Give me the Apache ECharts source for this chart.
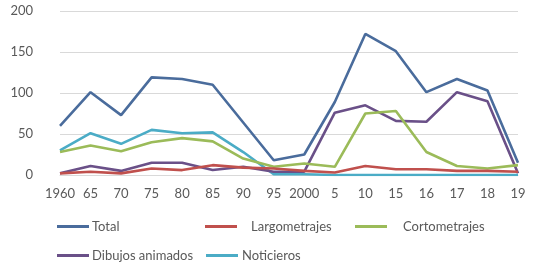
<!DOCTYPE html>
<html lang="es">
<head>
    <meta charset="UTF-8">
    <title>Producción</title>
    <script type="text/javascript" src="https://cdn.jsdelivr.net/npm/echarts@6/dist/echarts.min.js"></script>
    <style>
        html, body { margin: 0; padding: 0; background: #fff; }
    </style>
</head>
<body>
<div id="chart" style="width:545px;height:275px;"></div>
<script type="text/javascript">
    var years = ['1960', '65', '70', '75', '80', '85', '90', '95', '2000', '5', '10', '15', '16', '17', '18', '19'];
    var total = [60, 101, 73, 119, 117, 110, 64, 18, 25, 89, 172, 151, 101, 117, 103, 15];
    var largometrajes = [2, 4, 2, 8, 6, 12, 9, 8, 5, 3, 11, 7, 7, 5, 5, 4];
    var cortometrajes = [28, 36, 29, 40, 45, 41, 20, 10, 14, 10, 75, 78, 28, 11, 8, 12];
    var dibujos = [2, 11, 5, 15, 15, 6, 10, 4, 4, 76, 85, 66, 65, 101, 90, 2];
    var noticieros = [30, 51, 38, 55, 51, 52, 28, 1, 1, 0, 0, 0, 0, 0, 0, 0];

    var names = ['Total', 'Largometrajes', 'Cortometrajes', 'Dibujos animados', 'Noticieros'];
    var colors = ['#4a6c9c', '#c0504d', '#9bbb59', '#6a5088', '#4bacc6'];
    var values = [total, largometrajes, cortometrajes, dibujos, noticieros];

    var textFont = { fontFamily: 'Lato', fontSize: 13, color: '#595959' };

    // posicion de cada leyenda (rejilla tipo Excel)
    var legendPos = [
        { left: 52, top: 215, gap: -2 },
        { left: 200, top: 215, gap: 9 },
        { left: 350, top: 215, gap: 11 },
        { left: 52, top: 244, gap: -2 },
        { left: 201, top: 244, gap: -1 }
    ];

    var chart = echarts.init(document.getElementById('chart'));

    var series = [];
    var legends = [];
    for (var i = 0; i < names.length; i++) {
        series.push({
            name: names[i],
            type: 'line',
            data: values[i],
            symbol: 'none',
            lineStyle: { width: 2.6, color: colors[i] },
            itemStyle: { color: colors[i] },
            z: 10 - i
        });
        legends.push({
            data: [names[i]],
            left: legendPos[i].left,
            top: legendPos[i].top,
            icon: 'rect',
            itemWidth: 32,
            itemHeight: 3,
            itemGap: 0,
            textStyle: {
                fontFamily: 'Lato', fontSize: 13, color: '#595959',
                padding: [0, 0, 0, legendPos[i].gap]
            },
            selectedMode: false
        });
    }

    var option = {
        animation: false,
        grid: { left: 60, right: 27, top: 11, bottom: 100 },
        legend: legends,
        xAxis: {
            type: 'category',
            data: years,
            boundaryGap: false,
            axisLine: { lineStyle: { color: '#d9d9d9', width: 1 } },
            axisTick: { show: false },
            axisLabel: Object.assign({ margin: 12, interval: 0 }, textFont)
        },
        yAxis: {
            type: 'value',
            min: 0,
            max: 200,
            interval: 50,
            axisLine: { show: false },
            axisTick: { show: false },
            splitLine: { lineStyle: { color: '#d9d9d9', width: 1 } },
            axisLabel: Object.assign({ margin: 27 }, textFont)
        },
        series: series
    };

    chart.setOption(option);
</script>
</body>
</html>
